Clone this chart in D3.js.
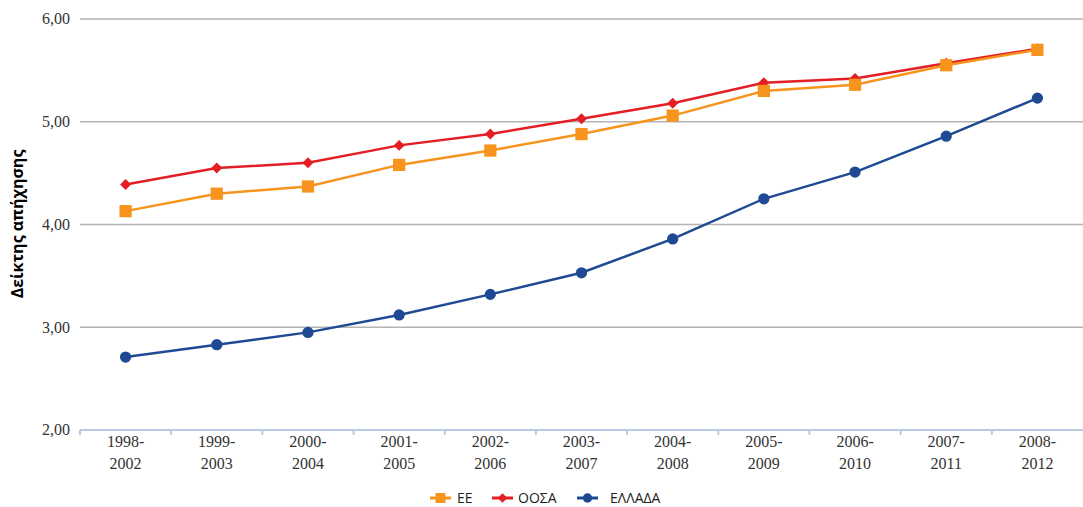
<!DOCTYPE html>
<html><head><meta charset="utf-8">
<script src="https://cdn.jsdelivr.net/npm/d3@7"></script>
<style>body{margin:0;background:#fff}</style>
</head><body>
<svg id="c" width="1083" height="507"></svg>
<script>
const categories = ["1998-2002","1999-2003","2000-2004","2001-2005","2002-2006","2003-2007","2004-2008","2005-2009","2006-2010","2007-2011","2008-2012"];
const seriesNames = ["ΕΕ","ΟΟΣΑ","ΕΛΛΑΔΑ"];
const valuesEE = [4.13,4.30,4.37,4.58,4.72,4.88,5.06,5.30,5.36,5.55,5.70];
const valuesOOSA = [4.39,4.55,4.60,4.77,4.88,5.03,5.18,5.38,5.42,5.57,5.71];
const valuesEllada = [2.71,2.83,2.95,3.12,3.32,3.53,3.86,4.25,4.51,4.86,5.23];
const yTicks = [2,3,4,5,6];
const colors = ["#f7941d","#e31e24","#1f4a93"];
const symbols = [d3.symbolSquare, d3.symbolSquare, d3.symbolCircle];
const symRot = [0, 45, 0];
const symSizes = [150, 60, 100];
const yLabel = "Δείκτης απήχησης";

const svg = d3.select("#c");
const m = {l:80, r:1083, t:19, b:430};
const x = d3.scaleBand().domain(categories).range([m.l, m.r]);
const y = d3.scaleLinear().domain([2,6]).range([m.b, m.t]);
const serif = "'Liberation Serif', 'DejaVu Serif', serif";
const sans = "'Open Sans', 'DejaVu Sans', sans-serif";

// gridlines
svg.append("g").selectAll("line").data(yTicks.filter(t=>t>2)).join("line")
  .attr("x1", m.l).attr("x2", m.r).attr("y1", d=>y(d)).attr("y2", d=>y(d))
  .attr("stroke","#b3b3b3").attr("stroke-width",1.6);

// y tick labels
const fmt = d => d.toFixed(2).replace(".", ",");
svg.append("g").selectAll("text").data(yTicks).join("text")
  .attr("x", 70).attr("y", d=>y(d)).attr("dy","0.33em").attr("text-anchor","end")
  .attr("font-family",serif).attr("font-size",16).attr("fill","#333")
  .text(fmt);

// x axis
const xa = svg.append("g").attr("transform",`translate(0,${m.b})`);
xa.append("line").attr("x1",m.l).attr("x2",m.r).attr("stroke","#b7cbe0").attr("stroke-width",2);
xa.selectAll("line.t").data(categories).join("line").attr("class","t")
  .attr("x1",d=>x(d)).attr("x2",d=>x(d)).attr("y1",0).attr("y2",5)
  .attr("stroke","#b7cbe0").attr("stroke-width",2);
const xl = xa.selectAll("text").data(categories).join("text")
  .attr("x", d=>x(d)+x.bandwidth()/2).attr("text-anchor","middle")
  .attr("font-family",serif).attr("font-size",16).attr("fill","#333");
xl.append("tspan").attr("x", d=>x(d)+x.bandwidth()/2).attr("y",17).text(d=>d.split("-")[0]+"-");
xl.append("tspan").attr("x", d=>x(d)+x.bandwidth()/2).attr("y",39).text(d=>d.split("-")[1]);

// y label
svg.append("text").attr("transform",`translate(23,224) rotate(-90)`).attr("text-anchor","middle")
  .attr("font-family",sans).attr("font-weight","bold").attr("font-size",16)
  .attr("fill","#000").text(yLabel);

// series
const allSeries = [valuesEE, valuesOOSA, valuesEllada];
const line = d3.line().x((d,i)=>x(categories[i])+x.bandwidth()/2).y(d=>y(d));
const order = [2,1,0];
order.forEach(si=>{
  const vals = allSeries[si];
  svg.append("path").datum(vals).attr("d",line).attr("fill","none")
    .attr("stroke",colors[si]).attr("stroke-width",2.5);
  svg.append("g").selectAll("path").data(vals).join("path")
    .attr("transform",(d,i)=>`translate(${x(categories[i])+x.bandwidth()/2},${y(d)}) rotate(${symRot[si]})`)
    .attr("d", d3.symbol(symbols[si], symSizes[si])).attr("fill",colors[si]);
});

// legend
const legX = [430, 492, 577];
const legTextX = [457, 518, 610];
const lg = svg.append("g").attr("transform","translate(0,498)");
seriesNames.forEach((n,i)=>{
  lg.append("line").attr("x1",legX[i]).attr("x2",legX[i]+21).attr("stroke",colors[i]).attr("stroke-width",3);
  lg.append("path").attr("transform",`translate(${legX[i]+10.5},0) rotate(${symRot[i]})`)
    .attr("d", d3.symbol(symbols[i], i===0?100:(i===1?45:70))).attr("fill",colors[i]);
  lg.append("text").attr("x",legTextX[i]).attr("y",0).attr("dy","0.35em")
    .attr("font-family",sans).attr("font-size",14).attr("fill","#222").text(n);
});
</script>
</body></html>
